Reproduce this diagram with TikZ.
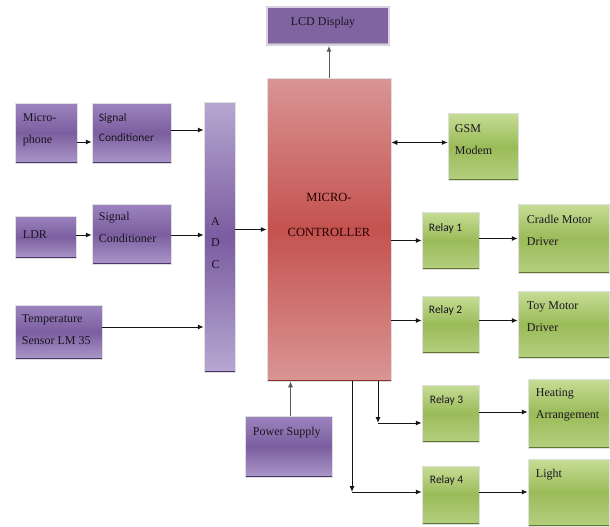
\documentclass[tikz,border=0pt]{standalone}
\usepackage{fontspec}
\setmainfont{Liberation Serif}
\newfontfamily\calibri{Carlito}
\usetikzlibrary{arrows.meta}

\definecolor{purpleT}{HTML}{9C84BF}
\definecolor{purpleM}{HTML}{7B5E9F}
\definecolor{purpleB}{HTML}{AB97C9}
\definecolor{purpleE}{HTML}{4A3566}
\definecolor{adcT}{HTML}{B7A7D1}
\definecolor{adcM}{HTML}{7A5CA0}
\definecolor{greenT}{HTML}{C6DD95}
\definecolor{greenM}{HTML}{9BBB59}
\definecolor{greenB}{HTML}{B5CF7F}
\definecolor{greenE}{HTML}{5F7530}
\definecolor{redT}{HTML}{D99594}
\definecolor{redM}{HTML}{C4524F}
\definecolor{redE}{HTML}{8B2E2C}
\definecolor{lcdFill}{HTML}{8064A2}
\definecolor{txtcol}{HTML}{1A1520}
\definecolor{arrcol}{HTML}{151515}

\begin{document}
\begin{tikzpicture}[
    x=1pt, y=-1pt,
    darkbase/.style={path picture={
        \draw[line width=3pt, #1] (path picture bounding box.south west)
            -- (path picture bounding box.south east);}},
    box/.style={draw=white!75!gray, line width=0.5pt, inner sep=0pt},
    purplebox/.style={box, top color=purpleT, bottom color=purpleB,
        middle color=purpleM, darkbase=purpleE},
    greenbox/.style={box, top color=greenT, bottom color=greenB,
        middle color=greenM, darkbase=greenE},
    txt/.style={inner sep=0pt, align=left, anchor=west, text=txtcol,
        font=\fontsize{12}{22}\selectfont},
    sanstxt/.style={txt, font=\calibri\fontsize{11.5}{20}\selectfont},
    arr/.style={draw=arrcol, line width=1pt, -{Latex[length=6pt, width=5pt]}}
]
    \useasboundingbox (0,0) rectangle (610,527);

    % Sensors and conditioning
    \node[purplebox, minimum width=62pt, minimum height=60pt] (mic) at (46,133) {};
    \node[txt] (micT) at ([xshift=8pt, yshift=3pt]mic.west) {Micro-\\phone};
    \node[purplebox, minimum width=79pt, minimum height=60pt] (sc1) at (131.5,133) {};
    \node[sanstxt] (sc1T) at ([xshift=7pt, yshift=5pt]sc1.west) {Signal\\Conditioner};
    \node[purplebox, minimum width=61pt, minimum height=42pt] (ldr) at (45.5,237) {};
    \node[txt] (ldrT) at ([xshift=8pt, yshift=2pt]ldr.west) {LDR};
    \node[purplebox, minimum width=79pt, minimum height=60pt] (sc2) at (131.5,234) {};
    \node[txt] (sc2T) at ([xshift=7pt, yshift=7pt]sc2.west) {Signal\\Conditioner};
    \node[purplebox, minimum width=87pt, minimum height=54pt] (temp) at (58.5,332) {};
    \node[txt] (tempT) at ([xshift=7pt, yshift=2pt]temp.west) {Temperature\\Sensor LM 35};

    % ADC
    \node[box, top color=adcT, bottom color=adcT, middle color=adcM, darkbase=purpleE,
        minimum width=31pt, minimum height=270pt] (adc) at (219.5,237) {};
    \node[txt, anchor=center, align=center, font=\fontsize{12}{21.5}\selectfont] (adcT)
        at ([xshift=-4pt, yshift=-6pt]adc.center) {A\\D\\C};

    % Controller, display and supply
    \node[box, top color=redT, bottom color=redT, middle color=redM, darkbase=redE,
        minimum width=124pt, minimum height=303pt] (mc) at (329,229.5) {};
    \node[txt, anchor=center, align=center, text=black!85!red,
        font=\fontsize{12.5}{35}\selectfont] (mcT)
        at ([yshift=15pt]mc.center) {MICRO-\\CONTROLLER};
    \node[box, draw=white!70!lcdFill, line width=1.5pt, fill=lcdFill, darkbase=gray!70,
        minimum width=122pt, minimum height=38pt] (lcd) at (328,26) {};
    \node[txt, anchor=center] (lcdT) at ([xshift=-5pt, yshift=3pt]lcd.center) {LCD Display};
    \node[purplebox, minimum width=87pt, minimum height=61pt] (power) at (288.5,446.5) {};
    \node[txt] (powerT) at ([xshift=8pt, yshift=14pt]power.west) {Power Supply};

    % Outputs
    \node[greenbox, minimum width=70pt, minimum height=67pt] (gsm) at (483,146.5) {};
    \node[txt] (gsmT) at ([xshift=7pt, yshift=7pt]gsm.west) {GSM\\Modem};
    \node[greenbox, minimum width=57pt, minimum height=57pt] (relay1) at (450.5,240.5) {};
    \node[sanstxt] (relay1T) at ([xshift=7pt, yshift=12pt]relay1.west) {Relay 1};
    \node[greenbox, minimum width=91pt, minimum height=69pt] (cradle) at (563.5,238.5) {};
    \node[txt] (cradleT) at ([xshift=9pt, yshift=8pt]cradle.west) {Cradle Motor\\Driver};
    \node[greenbox, minimum width=57pt, minimum height=57pt] (relay2) at (450.5,324.5) {};
    \node[sanstxt] (relay2T) at ([xshift=7pt, yshift=14pt]relay2.west) {Relay 2};
    \node[greenbox, minimum width=91pt, minimum height=67pt] (toy) at (563.5,324.5) {};
    \node[txt] (toyT) at ([xshift=9pt, yshift=8pt]toy.west) {Toy Motor\\Driver};
    \node[greenbox, minimum width=57pt, minimum height=57pt] (relay3) at (450.5,413.5) {};
    \node[sanstxt] (relay3T) at ([xshift=8pt, yshift=13pt]relay3.west) {Relay 3};
    \node[greenbox, minimum width=81pt, minimum height=69pt] (heat) at (568.5,413.5) {};
    \node[txt] (heatT) at ([xshift=8pt, yshift=9pt]heat.west) {Heating\\Arrangement};
    \node[greenbox, minimum width=57pt, minimum height=58pt] (relay4) at (450.5,495) {};
    \node[sanstxt] (relay4T) at ([xshift=8pt, yshift=15pt]relay4.west) {Relay 4};
    \node[greenbox, minimum width=81pt, minimum height=67pt] (light) at (568.5,492.5) {};
    \node[txt] (lightT) at ([xshift=8pt, yshift=18pt]light.west) {Light};

    % Corners of the lower relay lines
    \coordinate (c3) at (378,423);
    \coordinate (c4) at (352,492);

    % Connections
    \draw[arr] ([yshift=-9pt]mic.east) -- ([yshift=-9pt]sc1.west);
    \draw[arr] ([yshift=3pt]sc1.east) -- ([yshift=3pt]sc1.east -| adc.west);
    \draw[arr] ([yshift=2pt]ldr.east) -- ([yshift=2pt]ldr.east -| sc2.west);
    \draw[arr] ([yshift=-1pt]sc2.east) -- ([yshift=-1pt]sc2.east -| adc.west);
    \draw[arr] ([yshift=5pt]temp.east) -- ([yshift=5pt]temp.east -| adc.west);
    \draw[arr] (adc.east |- mc.west) -- (mc.west);
    \draw[arr, draw=gray!70!black] (mc.north) -- (mc.north |- lcd.south);
    \draw[arr, draw=gray!70!black] ([xshift=2pt]power.north) -- ([xshift=2pt]power.north |- mc.south);
    \draw[arr, {Latex[length=6pt, width=5pt]}-{Latex[length=6pt, width=5pt]}]
        ([yshift=4pt]gsm.west -| mc.east) -- ([yshift=4pt]gsm.west);
    \draw[arr] (relay1.west -| mc.east) -- (relay1.west);
    \draw[arr] ([yshift=2pt]relay1.east) -- ([yshift=2pt]relay1.east -| cradle.west);
    \draw[arr] ([yshift=4pt]relay2.west -| mc.east) -- ([yshift=4pt]relay2.west);
    \draw[arr] ([yshift=4pt]relay2.east) -- ([yshift=4pt]relay2.east -| toy.west);
    \draw[arr] (mc.south -| c3) -- (c3);
    \draw[arr] (c3) -- (c3 -| relay3.west);
    \draw[arr] ([yshift=1.5pt]relay3.east) -- ([yshift=1.5pt]relay3.east -| heat.west);
    \draw[arr] (mc.south -| c4) -- (c4);
    \draw[arr] (c4) -- (c4 -| relay4.west);
    \draw[arr] ([yshift=3pt]relay4.east) -- ([yshift=3pt]relay4.east -| light.west);
\end{tikzpicture}
\end{document}
